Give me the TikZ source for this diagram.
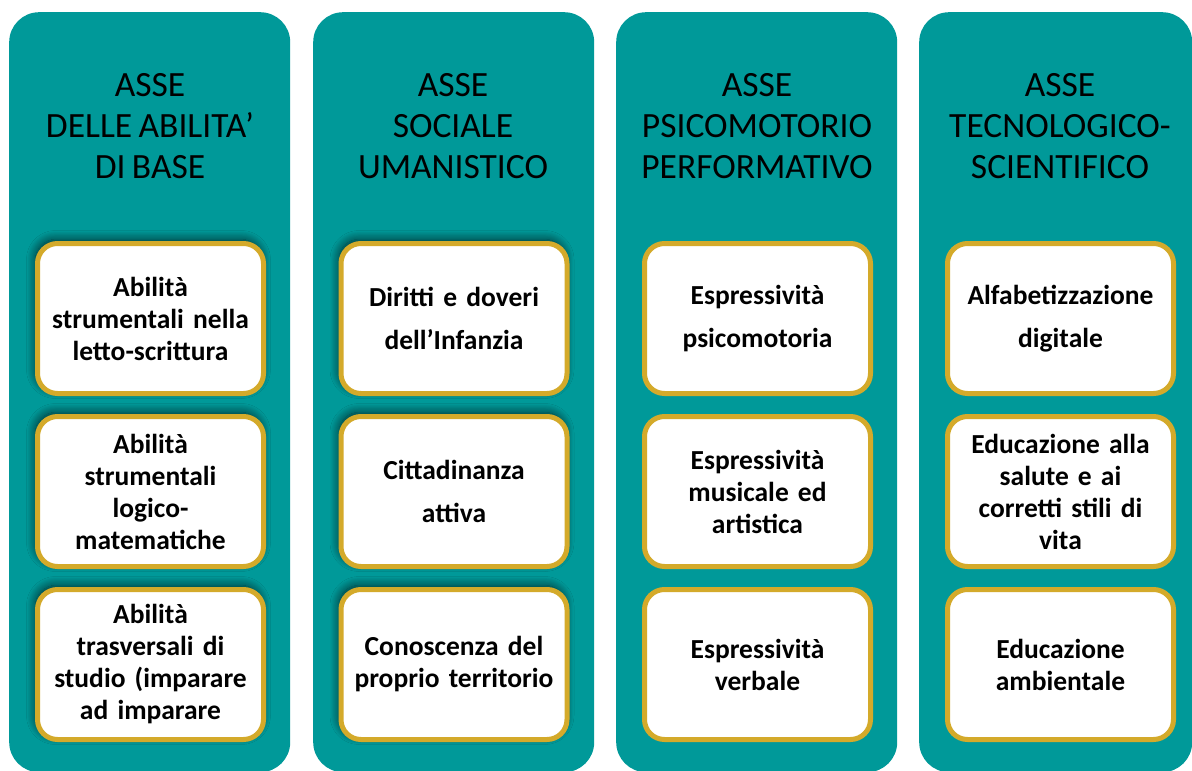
\documentclass[tikz,border=0pt]{standalone}
\usepackage{fontspec}
\setmainfont{Carlito}[WordSpace=0.8]
\usetikzlibrary{shadows.blur}
\definecolor{tealc}{RGB}{0,153,153}
\definecolor{gold}{RGB}{212,170,42}
\tikzset{
  column/.style={fill=tealc, draw=none, rounded corners=30pt, minimum width=281pt, minimum height=760pt, anchor=north west, inner sep=0pt},
  title/.style={align=center, font=\fontsize{35.5}{41}\selectfont, text=black, inner sep=0pt},
  item/.style={fill=white, draw=gold, line width=5pt, rounded corners=20pt, minimum width=226pt, minimum height=150pt, align=center, text width=222pt, inner sep=0pt, font=\bfseries\fontsize{27.5}{32}\selectfont},
  wide/.style={font=\bfseries\fontsize{27.5}{43}\selectfont},
  shad/.style={blur shadow={shadow xshift=-2pt, shadow yshift=4pt, shadow blur radius=9pt, shadow blur steps=12, shadow opacity=70}}
}
\begin{document}
\begin{tikzpicture}[x=1pt,y=-1pt]
\useasboundingbox (0,0) rectangle (1192,771);
\fill[white] (0,0) rectangle (1192,771);
% columns
\node[column] (c1) at (9,12) {};
\node[column] (c2) at (313,12) {};
\node[column] (c3) at (616,12) {};
\node[column, minimum width=273pt] (c4) at (919,12) {};
% titles
\node[title] (t1) at (150,126) {ASSE\\DELLE ABILITA’\\DI BASE};
\node[title] (t2) at (453,126) {ASSE\\SOCIALE\\UMANISTICO};
\node[title] (t3) at (757,126) {ASSE\\PSICOMOTORIO\\PERFORMATIVO};
\node[title] (t4) at (1060,126) {ASSE\\TECNOLOGICO-\\SCIENTIFICO};
% column 1
\node[item, shad] (a1) at (150.5,318.5) {Abilità\\strumentali nella\\letto-scrittura};
\node[item, shad] (a2) at (150.5,491.5) {Abilità\\strumentali\\logico-\\matematiche};
\node[item, shad] (a3) at (150.5,664.5) {Abilità\\trasversali di\\studio (imparare\\ad imparare};
% column 2
\node[item, wide, shad] (b1) at (454,318.5) {Diritti e doveri\\dell’Infanzia};
\node[item, wide, shad] (b2) at (454,491.5) {Cittadinanza\\attiva};
\node[item, shad] (b3) at (454,664.5) {Conoscenza del\\proprio territorio};
% column 3
\node[item, wide] (p1) at (757.5,318.5) {Espressività\\psicomotoria};
\node[item] (p2) at (757.5,491.5) {Espressività\\musicale ed\\artistica};
\node[item] (p3) at (757.5,664.5) {Espressività\\verbale};
% column 4
\node[item, wide] (s1) at (1060.5,318.5) {Alfabetizzazione\\digitale};
\node[item] (s2) at (1060.5,491.5) {Educazione alla\\salute e ai\\corretti stili di\\vita};
\node[item] (s3) at (1060.5,664.5) {Educazione\\ambientale};
\end{tikzpicture}
\end{document}
